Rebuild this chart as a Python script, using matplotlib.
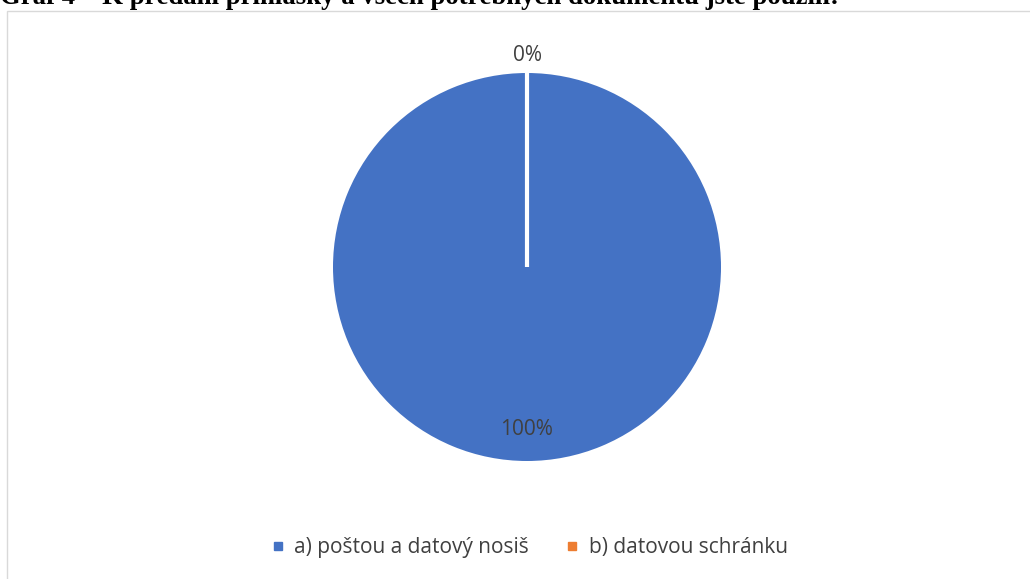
import matplotlib
matplotlib.use("Agg")
import matplotlib.pyplot as plt
from matplotlib.patches import Rectangle
import numpy as np

title = "Graf 4 – K předání přihlášky a všech potřebných dokumentů jste použili:"
categories = ["a) poštou a datový nosiš", "b) datovou schránku"]
values = [100, 0]
pct_labels = ["100%", "0%"]
colors = ["#4472C4", "#ED7D31"]

W, H = 1030, 579
fig = plt.figure(figsize=(W / 100, H / 100), dpi=100)
fig.patch.set_facecolor("white")

# chart frame
fig.patches.append(Rectangle((7 / W, -0.01), 1.02 - 7 / W, 1 - 11 / H + 0.01,
                             transform=fig.transFigure, fill=False,
                             edgecolor="#D9D9D9", linewidth=1))

# clipped title (cut at top edge as in the reference)
fig.text(0.0, 1 - 4 / H, title, family="Liberation Serif", weight="bold",
         fontsize=19.3, color="black", ha="left", va="baseline")

cx, cy, r = 527, 267, 194
ax = fig.add_axes([(cx - r) / W, 1 - (cy + r) / H, 2 * r / W, 2 * r / H])
wedges, _ = ax.pie(values, colors=colors, startangle=90, counterclock=False,
                   wedgeprops=dict(edgecolor="white", linewidth=3))
wedges[0].set_edgecolor("none")
ax.set_xlim(-1, 1)
ax.set_ylim(-1, 1)
ax.set_aspect("auto")
ax.axis("off")

dists = [0.84, 1.09]
for w, lab, d in zip(wedges, pct_labels, dists):
    ang = np.deg2rad((w.theta1 + w.theta2) / 2)
    ax.text(d * np.cos(ang), d * np.sin(ang), lab, ha="center", va="center",
            fontsize=15, color="#404040", family="Open Sans", clip_on=False)

handles = [plt.Line2D([], [], marker="s", linestyle="none", markersize=6,
                      markerfacecolor=c, markeredgecolor=c) for c in colors]
fig.legend(handles, categories, loc="center", bbox_to_anchor=(522.5 / W, 1 - 548 / H),
           ncol=2, frameon=False, handletextpad=-0.2, columnspacing=1.07,
           prop=dict(family="Open Sans", size=15), labelcolor="#404040")

fig.savefig("out.png", dpi=100)
